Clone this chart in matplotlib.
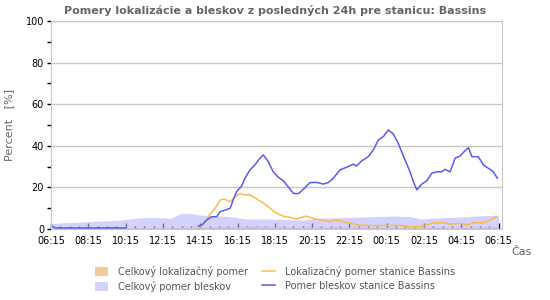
import numpy as np
import matplotlib.pyplot as plt

# data (time of day, percent)
tick_labels = ['06:15', '08:15', '10:15', '12:15', '14:15', '16:15', '18:15',
               '20:15', '22:15', '00:15', '02:15', '04:15', '06:15']

# Celkový pomer bleskov (lavender area)
total_flash_t = ['06:15', '07:00', '08:15', '10:00', '11:00', '11:45', '12:45',
                 '12:55', '13:15', '13:45', '14:15', '14:45', '15:45', '16:45', '18:00',
                 '19:45', '20:30', '21:35', '23:20', '00:45', '01:30', '02:05',
                 '02:45', '03:30', '04:15', '05:00', '06:15']
total_flash_v = [2.6, 3.0, 3.5, 4.3, 5.4, 5.5, 5.2,
                 6.3, 7.6, 7.5, 6.7, 6.4, 6.0, 4.8, 4.8,
                 4.3, 5.2, 5.4, 5.9, 6.2, 6.0, 4.8,
                 5.2, 5.5, 5.8, 6.2, 6.7]

# Celkový lokalizačný pomer (light orange area)
total_loc_t = ['06:15', '10:15', '13:00', '16:00', '17:30', '19:00', '22:00',
               '01:00', '04:00', '06:15']
total_loc_v = [0.5, 0.6, 0.8, 1.0, 1.3, 0.8, 0.9, 0.8, 0.8, 1.0]

# Lokalizačný pomer stanice Bassins
loc_t = ['14:09', '14:31', '14:47', '15:03', '15:19', '15:30', '15:40', '15:51',
         '16:07', '16:23', '16:39', '16:50', '17:06', '17:22', '17:38', '17:54',
         '18:10', '18:26', '18:42', '19:04', '19:25', '19:41', '19:57', '20:19',
         '20:40', '21:12', '21:34', '21:55', '22:22', '22:43', '23:32', '00:58',
         '01:30', '02:03', '02:24', '02:45', '03:17', '03:39', '04:11', '04:33',
         '04:54', '05:26', '05:47', '06:08']
loc_v = [0.3, 3.5, 7.2, 9.9, 13.9, 14.4, 13.9, 13.1,
         15.5, 17.1, 16.3, 16.6, 15.5, 13.9, 12.6, 10.7,
         8.7, 7.2, 6.2, 5.6, 4.8, 5.6, 6.2, 5.1,
         4.3, 3.5, 4.3, 3.5, 2.7, 1.9, 1.6, 1.8,
         1.1, 1.1, 1.9, 3.0, 3.0, 2.3, 2.7, 1.9,
         3.0, 3.0, 4.3, 5.9]

# Pomer bleskov stanice Bassins (nan = no data)
flash_t = ['06:15', '06:30', '07:30', '08:30', '09:30', '10:15', '12:00',
           '14:09', '14:20', '14:36', '14:52', '15:08', '15:19', '15:35', '15:51',
           '16:01', '16:12', '16:29', '16:39', '16:55', '17:11', '17:27', '17:38',
           '17:54', '18:10', '18:26', '18:42', '18:58', '19:15', '19:31', '19:47',
           '20:08', '20:30', '20:51', '21:07', '21:23', '21:45', '22:06', '22:28',
           '22:38', '22:55', '23:16', '23:32', '23:48', '00:04', '00:20', '00:36',
           '00:52', '01:14', '01:30', '01:41', '01:52', '02:08', '02:24', '02:40',
           '02:56', '03:12', '03:23', '03:39', '03:55', '04:11', '04:27', '04:38',
           '04:49', '05:10', '05:26', '05:47', '05:58', '06:11']
flash_v = [1.5, 0.5, 0.5, 0.5, 0.5, 0.5, np.nan,
           1.4, 1.9, 4.3, 5.9, 5.9, 8.3, 9.1, 9.9,
           13.9, 17.9, 20.8, 24.4, 28.4, 30.8, 34.0, 35.6,
           32.4, 27.5, 24.9, 23.2, 20.3, 17.1, 17.0, 19.1,
           22.3, 22.4, 21.6, 22.3, 24.4, 28.4, 29.7, 31.2,
           30.3, 32.8, 34.8, 38.0, 42.8, 44.4, 47.6, 45.7,
           41.2, 33.2, 27.5, 22.7, 18.8, 21.6, 23.2, 26.8,
           27.5, 27.5, 28.7, 27.5, 34.0, 35.1, 37.6, 39.1,
           34.8, 34.7, 30.8, 28.7, 27.5, 24.4]


def to_hours(labels):
    # hours after 06:15, continuing past midnight
    out = []
    prev = -1.0
    for s in labels:
        h, m = map(int, s.split(':'))
        v = (h * 60 + m - 375) / 60.0
        if v < 0:
            v += 24
        if v < prev:
            v += 24
        out.append(v)
        prev = v
    return np.array(out)


fig = plt.figure(figsize=(5.5, 3.0), dpi=100)
ax = fig.add_axes([51 / 550, 1 - 229 / 300, 451 / 550, 208 / 300])

gray = '#c8c8c8'

ax.fill_between(to_hours(total_loc_t), total_loc_v, color='#f3cc95', lw=0,
                label='Celkový lokalizačný pomer')
ax.plot(to_hours(loc_t), loc_v, color='#fcbb45', lw=1.1,
        label='Lokalizačný pomer stanice Bassins')
ax.fill_between(to_hours(total_flash_t), total_flash_v, color=(180 / 255, 180 / 255, 250 / 255),
                alpha=0.6, lw=0, label='Celkový pomer bleskov')
ax.plot(to_hours(flash_t), flash_v, color='#5a5af5', lw=1.1,
        label='Pomer bleskov stanice Bassins')

ax.set_xlim(0, 451 / 18.65)
ax.set_ylim(0, 100)

ax.set_xticks(np.arange(0, 25, 2))
ax.set_xticklabels(tick_labels)
ax.set_xticks(np.arange(0, 24.1, 0.5), minor=True)
ax.set_yticks(np.arange(0, 101, 20))
ax.set_yticks(np.arange(10, 100, 20), minor=True)

ax.tick_params(axis='x', which='major', direction='in', length=4, width=1,
               color='black', labelsize=7, pad=5)
ax.tick_params(axis='x', which='minor', direction='in', length=2.5, width=1,
               color='black')
ax.tick_params(axis='y', which='both', direction='out', length=3, width=1,
               color='black', labelsize=7, pad=2)

ax.grid(axis='y', color=gray, lw=1)
ax.set_axisbelow(True)
for sp in ax.spines.values():
    sp.set_color(gray)

ax.set_ylabel('Percent   [%]', fontsize=8, color='#666666', labelpad=8)
fig.text(522 / 550, 1 - 252 / 300, 'Čas', fontsize=8, color='#666666',
         ha='center', va='center')
fig.text(275 / 550, 1 - 10 / 300,
         'Pomery lokalizácie a bleskov z posledných 24h pre stanicu: Bassins',
         fontsize=8, fontweight='bold', color='#666666', ha='center', va='center')

h, l = ax.get_legend_handles_labels()
order = [0, 2, 1, 3]
leg = fig.legend([h[i] for i in order], [l[i] for i in order], ncol=2,
                 loc='upper left', bbox_to_anchor=(86 / 550, 1 - 257 / 300),
                 frameon=False, fontsize=7, handlelength=1.4, handleheight=1.0,
                 handletextpad=1.0, columnspacing=1.4, labelspacing=0.45)
for t in leg.get_texts():
    t.set_color('#555555')

fig.savefig('out.png', dpi=100)
